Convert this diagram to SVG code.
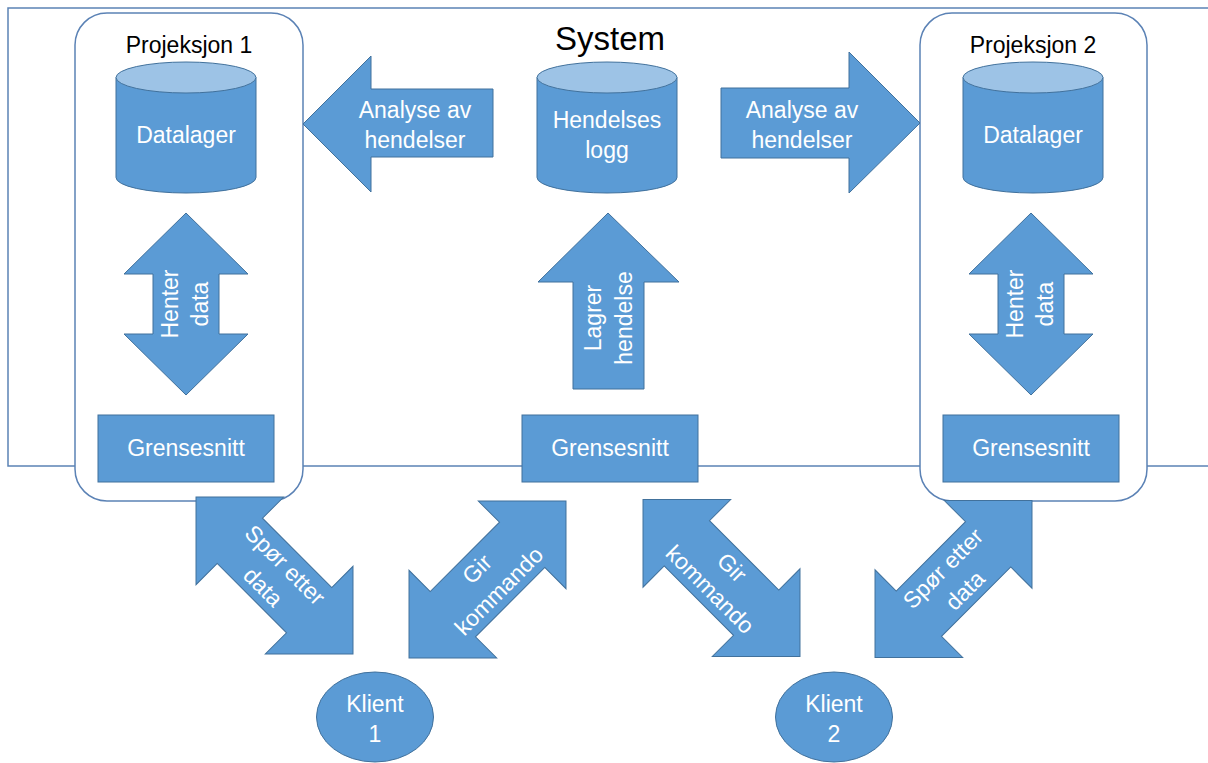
<svg xmlns="http://www.w3.org/2000/svg" width="1208" height="763" viewBox="0 0 1208 763">
<style>
text{font-family:"Liberation Sans",Arial,sans-serif;font-size:23px;text-anchor:middle}
.w{fill:#ffffff}
.k{fill:#000000}
.shape{fill:#5B9BD5;stroke:#41719C;stroke-width:1}
.top{fill:#9DC3E6;stroke:#41719C;stroke-width:1}
.frame{fill:none;stroke:#5B82B5;stroke-width:1.5}
.proj{fill:#ffffff;stroke:#5B82B5;stroke-width:1.5}
</style>
<defs>
<polygon id="dbl" points="-111,0 -49,-62 -49,-32 49,-32 49,-62 111,0 49,62 49,32 -49,32 -49,62"/>
</defs>
<g id="system">
<rect class="frame" x="8" y="8" width="1230" height="458"/>
<text class="k" x="610" y="50" style="font-size:33px">System</text>
</g>
<g id="projeksjon1">
<rect class="proj" x="75" y="13" width="228" height="488" rx="32"/>
<text class="k" x="189" y="53">Projeksjon 1</text>
</g>
<g id="projeksjon2">
<rect class="proj" x="920" y="13" width="227" height="488" rx="32"/>
<text class="k" x="1033" y="53">Projeksjon 2</text>
</g>
<g id="datalager1">
<path class="shape" d="M116,77.5 L116,177.5 A70,15.5 0 0 0 256,177.5 L256,77.5 Z"/>
<ellipse class="top" cx="186" cy="77.5" rx="70" ry="15.5"/>
<text class="w" x="186" y="143">Datalager</text>
</g>
<g id="hendelseslogg">
<path class="shape" d="M537,77.5 L537,177.5 A70,15.5 0 0 0 677,177.5 L677,77.5 Z"/>
<ellipse class="top" cx="607" cy="77.5" rx="70" ry="15.5"/>
<text class="w" x="607" y="128">Hendelses</text>
<text class="w" x="607" y="158">logg</text>
</g>
<g id="datalager2">
<path class="shape" d="M963,77.5 L963,177.5 A70,15.5 0 0 0 1103,177.5 L1103,77.5 Z"/>
<ellipse class="top" cx="1033" cy="77.5" rx="70" ry="15.5"/>
<text class="w" x="1033" y="143">Datalager</text>
</g>
<g id="grensesnitt1">
<rect class="shape" x="98" y="415" width="176" height="67"/>
<text class="w" x="186" y="456">Grensesnitt</text>
</g>
<g id="grensesnitt-system">
<rect class="shape" x="522" y="415" width="176" height="67"/>
<text class="w" x="610" y="456">Grensesnitt</text>
</g>
<g id="grensesnitt2">
<rect class="shape" x="943" y="415" width="176" height="67"/>
<text class="w" x="1031" y="456">Grensesnitt</text>
</g>
<g id="klient1">
<ellipse class="shape" cx="375" cy="717" rx="58.5" ry="45"/>
<text class="w" x="375" y="712">Klient</text>
<text class="w" x="375" y="742">1</text>
</g>
<g id="klient2">
<ellipse class="shape" cx="834" cy="717" rx="58.5" ry="45"/>
<text class="w" x="834" y="712">Klient</text>
<text class="w" x="834" y="742">2</text>
</g>
<g id="connectors">
<g id="analyse-venstre">
<polygon class="shape" points="303,124 371,56 371,89 493,89 493,157 371,157 371,192"/>
<text class="w" x="415" y="118">Analyse av</text>
<text class="w" x="415" y="148">hendelser</text>
</g>
<g id="analyse-hoyre">
<polygon class="shape" points="920,123 849,52 849,88 721,88 721,158 849,158 849,193"/>
<text class="w" x="802" y="118">Analyse av</text>
<text class="w" x="802" y="148">hendelser</text>
</g>
<g id="henter1">
<polygon class="shape" points="186,213 248,274 219,274 219,334 248,334 186,395 124,334 153,334 153,274 124,274"/>
<text class="w" transform="translate(0 304) rotate(-90)"><tspan x="0" y="178">Henter</tspan><tspan x="0" y="208">data</tspan></text>
</g>
<g id="henter2">
<polygon class="shape" points="1031,213 1093,274 1064,274 1064,334 1093,334 1031,395 969,334 998,334 998,274 969,274"/>
<text class="w" transform="translate(0 304) rotate(-90)"><tspan x="0" y="1023">Henter</tspan><tspan x="0" y="1053">data</tspan></text>
</g>
<g id="lagrer">
<polygon class="shape" points="608,213 679,282 644,282 644,389 573,389 573,282 538,282"/>
<text class="w" transform="translate(0 318) rotate(-90)"><tspan x="0" y="601">Lagrer</tspan><tspan x="0" y="632">hendelse</tspan></text>
</g>
<g id="spor1" transform="translate(274.5 575.5) rotate(45)">
<use href="#dbl" class="shape"/>
<text class="w" x="0" y="-7">Spør etter</text>
<text class="w" x="0" y="24">data</text>
</g>
<g id="gir1" transform="translate(487.5 579.5) rotate(-45)">
<use href="#dbl" class="shape"/>
<text class="w" x="0" y="-7">Gir</text>
<text class="w" x="0" y="24">kommando</text>
</g>
<g id="gir2" transform="translate(721.5 578) rotate(45)">
<use href="#dbl" class="shape"/>
<text class="w" x="0" y="-7">Gir</text>
<text class="w" x="0" y="24">kommando</text>
</g>
<g id="spor2" transform="translate(953.5 579) rotate(-45)">
<use href="#dbl" class="shape"/>
<text class="w" x="0" y="-7">Spør etter</text>
<text class="w" x="0" y="24">data</text>
</g>
</g>
</svg>
